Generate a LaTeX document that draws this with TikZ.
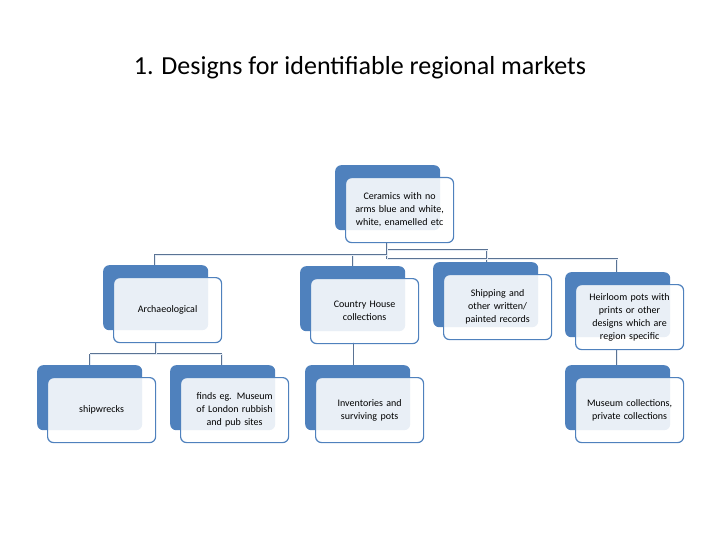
\documentclass[tikz,border=0pt]{standalone}
\usepackage{fontspec}
\setmainfont{Carlito}
\definecolor{bk}{HTML}{4F81BD}
\definecolor{ln}{HTML}{5A7394}
\tikzset{
 backbox/.style={fill=bk, rounded corners=6pt, minimum width=105pt, minimum height=65pt, anchor=north west, inner sep=0pt},
 frontbox/.style={draw=bk, line width=1.2pt, fill=white, fill opacity=0.88, text opacity=1, rounded corners=6pt, minimum width=108pt, minimum height=65pt, anchor=north west, align=center, text width=92pt, font=\fontsize{10}{13}\selectfont, inner sep=0pt},
 conn/.style={draw=ln, line width=2.6pt},
 conni/.style={draw=white!85!bk, line width=0.8pt}
}
\newcommand{\mybox}[4]{%
 \node[backbox] (#1b) at (#2,#3) {};
 \node[frontbox] (#1) at (#2+10,#3+12) {#4};}
\begin{document}
\begin{tikzpicture}[x=1pt,y=-1pt]
\useasboundingbox (0,0) rectangle (720,540);
\node (title) at (360,68) {\fontsize{26}{30}\selectfont 1. Designs for identifiable regional markets};
% connectors
\coordinate (t0) at (387,243);
\coordinate (ja) at (387,255);
\coordinate (jb) at (387,250);
\coordinate (jc) at (387,259);
\foreach \s in {conn,conni}{
 \draw[\s] (t0) -- (jc);
 \draw[\s] (ja) -| (155,266);
 \draw[\s] (353,255) -- (353,266);
 \draw[\s] (jb) -| (487,262);
 \draw[\s] (jc) -| (617,272);
 \draw[\s] (156,343) -- (156,354) coordinate (aj);
 \draw[\s] (90,354) -- (222,354);
 \draw[\s] (90,354) -- (90,365);
 \draw[\s] (222,354) -- (222,365);
 \draw[\s] (617,349) -- (617,365);
}
\draw[ln, line width=0.5pt] (353,342) -- (353,365);
\mybox{top}{335}{165}{Ceramics with no arms blue and white, white, enamelled etc}
\mybox{arch}{103}{265}{Archaeological}
\mybox{ch}{300}{266}{Country House collections}
\mybox{ship}{433}{262}{Shipping and other written/ painted records}
\mybox{heir}{565}{272}{Heirloom pots with prints or other designs which are region specific}
\mybox{wreck}{37}{365}{shipwrecks}
\mybox{finds}{170}{365}{finds eg. Museum of London rubbish and pub sites}
\mybox{inv}{305}{365}{Inventories and surviving pots}
\mybox{mus}{565}{365}{Museum collections, private collections}
\end{tikzpicture}
\end{document}
